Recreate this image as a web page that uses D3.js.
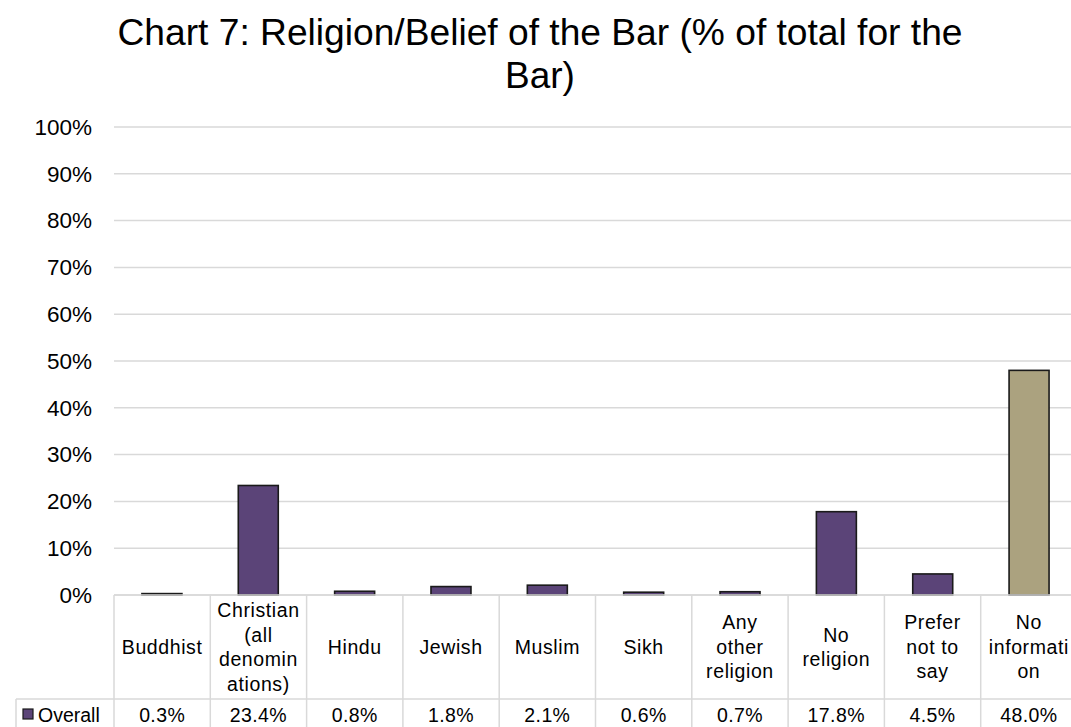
<!DOCTYPE html>
<html>
<head>
<meta charset="utf-8">
<script src="https://cdn.jsdelivr.net/npm/d3@7"></script>
<style>
  body { margin: 0; background: #fff; }
  text { font-family: "Liberation Sans", Arial, sans-serif; fill: #000; }
</style>
</head>
<body>
<script>
var categories = ['Buddhist', 'Christian (all denominations)', 'Hindu', 'Jewish', 'Muslim',
  'Sikh', 'Any other religion', 'No religion', 'Prefer not to say', 'No information'];
// wrapped the way the spreadsheet wraps them
var labelLines = [
  ['Buddhist'], ['Christian', '(all', 'denomin', 'ations)'], ['Hindu'], ['Jewish'], ['Muslim'],
  ['Sikh'], ['Any', 'other', 'religion'], ['No', 'religion'], ['Prefer', 'not to', 'say'], ['No', 'informati', 'on']
];
var values = [0.3, 23.4, 0.8, 1.8, 2.1, 0.6, 0.7, 17.8, 4.5, 48.0];
var yTicks = [0, 10, 20, 30, 40, 50, 60, 70, 80, 90, 100];
var seriesName = 'Overall';

var width = 1071, height = 727;
var plotLeft = 114, plotRight = 1077, plotTop = 127, base = 595;
var headerBottom = 699;
var purple = '#5b4478', tan = '#aba27f', grid = '#d9d9d9';

var svg = d3.select('body').append('svg')
  .attr('width', width)
  .attr('height', height);

var x = d3.scaleBand()
  .domain(categories)
  .range([plotLeft, plotRight])
  .paddingInner(0.585)
  .paddingOuter(0.29);

var cell = d3.scaleBand()
  .domain(categories)
  .range([plotLeft, plotRight]);

var y = d3.scaleLinear()
  .domain([0, 100])
  .range([base, plotTop]);

// title
var title = svg.append('text')
  .attr('text-anchor', 'middle')
  .attr('font-size', 37);
title.append('tspan').attr('x', 540).attr('y', 45)
  .attr('textLength', 845).attr('lengthAdjust', 'spacingAndGlyphs')
  .text('Chart 7: Religion/Belief of the Bar (% of total for the');
title.append('tspan').attr('x', 540).attr('y', 88)
  .text('Bar)');

// gridlines + y labels
svg.append('g')
  .selectAll('line')
  .data(yTicks)
  .enter().append('line')
  .attr('x1', plotLeft).attr('x2', width)
  .attr('y1', function(d) { return y(d); })
  .attr('y2', function(d) { return y(d); })
  .attr('stroke', grid)
  .attr('stroke-width', 1.5);

svg.append('g')
  .selectAll('text')
  .data(yTicks)
  .enter().append('text')
  .attr('x', 92)
  .attr('y', function(d) { return y(d); })
  .attr('dy', '0.35em')
  .attr('text-anchor', 'end')
  .attr('font-size', 22.5)
  .text(function(d) { return d + '%'; });

// bars
svg.append('g')
  .selectAll('rect')
  .data(values)
  .enter().append('rect')
  .attr('x', function(d, i) { return x(categories[i]); })
  .attr('width', x.bandwidth())
  .attr('y', function(d) { return y(d); })
  .attr('height', function(d) { return base - y(d); })
  .attr('fill', function(d, i) { return i == categories.length - 1 ? tan : purple; })
  .attr('stroke', '#1a1a1a')
  .attr('stroke-width', 1.6);

// data table
var table = svg.append('g').attr('stroke', grid).attr('stroke-width', 1.5);
table.append('line').attr('x1', plotLeft).attr('x2', width).attr('y1', base).attr('y2', base);
table.append('line').attr('x1', 16).attr('x2', width).attr('y1', headerBottom).attr('y2', headerBottom);
table.append('line').attr('x1', 16).attr('x2', 16).attr('y1', headerBottom).attr('y2', height);
table.selectAll('.vline')
  .data(categories)
  .enter().append('line')
  .attr('class', 'vline')
  .attr('x1', function(d) { return cell(d); })
  .attr('x2', function(d) { return cell(d); })
  .attr('y1', base).attr('y2', height);

var head = svg.append('g')
  .selectAll('text')
  .data(categories)
  .enter().append('text')
  .attr('text-anchor', 'middle')
  .attr('font-size', 19.5)
  .attr('letter-spacing', 0.6);
head.each(function(d, i) {
  var lines = labelLines[i];
  var cx = cell(d) + cell.bandwidth() / 2;
  var mid = (base + headerBottom) / 2;
  var lh = 24.5;
  var y0 = mid - (lines.length - 1) * lh / 2;
  var t = d3.select(this);
  lines.forEach(function(s, j) {
    t.append('tspan').attr('x', cx).attr('y', y0 + j * lh).attr('dy', '0.35em').text(s);
  });
});

svg.append('g')
  .selectAll('text')
  .data(values)
  .enter().append('text')
  .attr('x', function(d, i) { return cell(categories[i]) + cell.bandwidth() / 2; })
  .attr('y', 715)
  .attr('dy', '0.35em')
  .attr('text-anchor', 'middle')
  .attr('font-size', 19.5)
  .attr('letter-spacing', 0.4)
  .text(function(d) { return d.toFixed(1) + '%'; });

// legend key
svg.append('rect')
  .attr('x', 23).attr('y', 709).attr('width', 10).attr('height', 10)
  .attr('fill', purple).attr('stroke', '#1a1a1a').attr('stroke-width', 1.2);
svg.append('text')
  .attr('x', 38).attr('y', 715).attr('dy', '0.35em')
  .attr('font-size', 19.5)
  .text(seriesName);
</script>
</body>
</html>
